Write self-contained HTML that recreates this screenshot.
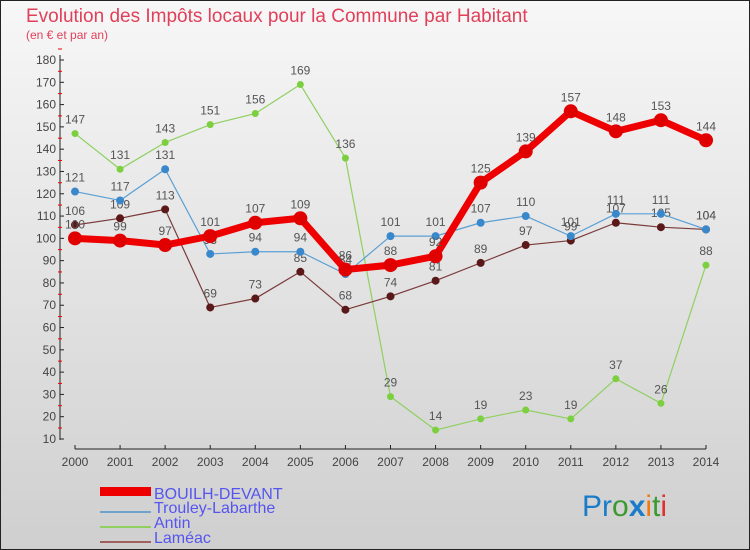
<!DOCTYPE html>
<html><head><meta charset="utf-8"><style>
body{margin:0;width:750px;height:550px;overflow:hidden;font-family:"Liberation Sans",sans-serif}
svg{display:block}
</style></head><body>
<svg width="750" height="550" xmlns="http://www.w3.org/2000/svg">
<defs><linearGradient id="bg" x1="0" y1="0" x2="0" y2="1"><stop offset="0" stop-color="#f7f7f7"/><stop offset="1" stop-color="#cfcfcf"/></linearGradient></defs>
<rect x="0.5" y="0.5" width="749" height="549" fill="url(#bg)" stroke="#222"/>
<text x="26" y="22" font-size="19" fill="#e0405a">Evolution des Impôts locaux pour la Commune par Habitant</text>
<text x="26" y="39" font-size="12" fill="#e0405a">(en € et par an)</text>
<g id="axes"></g>
<g id="series"></g>
<g>
<rect x="100" y="487" width="51" height="9" fill="#e00"/>
<text x="154" y="499" font-size="16" fill="#5555ee">BOUILH-DEVANT</text>
<line x1="100" y1="512" x2="151" y2="512" stroke="#6fa2cc" stroke-width="2"/>
<text x="154" y="513" font-size="16" fill="#5555ee">Trouley-Labarthe</text>
<line x1="100" y1="527" x2="151" y2="527" stroke="#8fd060" stroke-width="2"/>
<text x="154" y="528" font-size="16" fill="#5555ee">Antin</text>
<line x1="100" y1="542" x2="151" y2="542" stroke="#a06060" stroke-width="2"/>
<text x="154" y="543" font-size="16" fill="#5555ee">Laméac</text>
</g>
<g font-size="30">
<text x="582" y="516"><tspan fill="#1a7cc8">Pr</tspan><tspan fill="#3a9a30">o</tspan><tspan fill="#1a7cc8" font-weight="bold">x</tspan><tspan fill="#f07a10">i</tspan><tspan fill="#3a9a30">t</tspan><tspan fill="#e03030">i</tspan></text>
</g>
</svg>
<script>
const years=["2000","2001","2002","2003","2004","2005","2006","2007","2008","2009","2010","2011","2012","2013","2014"];
const yTicks=[10,20,30,40,50,60,70,80,90,100,110,120,130,140,150,160,170,180];
const bouilh=[100,99,97,101,107,109,86,88,92,125,139,157,148,153,144];
const trouley=[121,117,131,93,94,94,84,101,101,107,110,101,111,111,104];
const antin=[147,131,143,151,156,169,136,29,14,19,23,19,37,26,88];
const lameac=[106,109,113,69,73,85,68,74,81,89,97,99,107,105,104];
const NS="http://www.w3.org/2000/svg";
const xs=i=>75+i*(706-75)/14;
const ys=v=>439-(v-10)*(439-60)/170;
function mk(tag,attrs,parent){const e=document.createElementNS(NS,tag);for(const k in attrs)e.setAttribute(k,attrs[k]);parent.appendChild(e);return e;}
const ax=document.getElementById('axes');
let yl=mk('line',{x1:60,y1:55,x2:60,y2:440,stroke:'#222','stroke-width':1},ax);


let xl=mk('line',{x1:75,y1:449,x2:706,y2:449,stroke:'#222','stroke-width':1},ax);


yTicks.forEach(v=>{
 const y=ys(v);
 mk('line',{x1:60,y1:y,x2:64,y2:y,stroke:'#222'},ax);
 mk('line',{x1:58,y1:y-11,x2:62,y2:y-11,stroke:'#e00'},ax);
 const t=mk('text',{x:56,y:y+4,'font-size':12,'text-anchor':'end',fill:'#444'},ax);
 t.textContent=v;
 
 
});
years.forEach((yr,i)=>{
 const x=xs(i);
 mk('line',{x1:x,y1:445,x2:x,y2:449,stroke:'#222'},ax);
 const t=mk('text',{x:x,y:466,'font-size':12,'text-anchor':'middle',fill:'#444'},ax);
 t.textContent=yr;
 
 
});
const sg=document.getElementById('series');
function draw(data,name,color,dot,w,r){
 const g=mk('g',{},sg);
 
 
 const pts=data.map((v,i)=>xs(i)+','+ys(v)).join(' ');
 mk('polyline',{points:pts,fill:'none',stroke:color,'stroke-width':w,'stroke-linejoin':'round'},g);
 data.forEach((v,i)=>{
  const c=mk('circle',{cx:xs(i),cy:ys(v),r:r,fill:dot},g);
  
  
  const t=mk('text',{x:xs(i),y:ys(v)-10,'font-size':12,'text-anchor':'middle',fill:'#555'},g);
  t.textContent=v;
  
  
 });
}
draw(antin,'antin','#8fd060','#7cd040',1.2,3.5);
draw(lameac,'lameac','#7a3a3a','#5a1818',1.2,4);
draw(trouley,'trouley','#5a9fd4','#3a88cc',1.2,4);
draw(bouilh,'bouilh','#ee0000','#e00000',7,7);
</script>
</body></html>
